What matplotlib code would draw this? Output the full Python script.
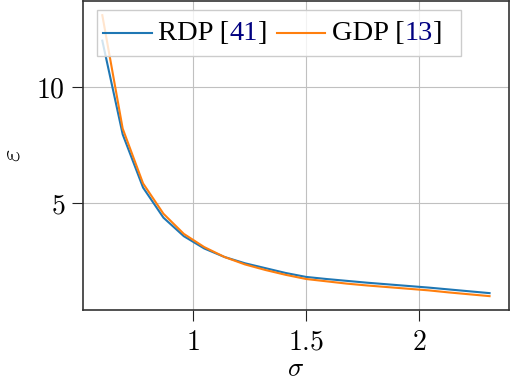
import matplotlib
matplotlib.use("Agg")
from matplotlib import pyplot as plt
from matplotlib.offsetbox import AnchoredOffsetbox, HPacker, TextArea, DrawingArea
from matplotlib.lines import Line2D

plt.rcParams["mathtext.fontset"] = "cm"

# sigma values and epsilon for the two accountants
sigma = [0.60, 0.69, 0.78, 0.87, 0.96, 1.05, 1.14, 1.23, 1.32, 1.41,
         1.50, 1.59, 1.68, 1.77, 1.86, 1.95, 2.04, 2.13, 2.22, 2.31]
eps_rdp = [12.0, 7.95, 5.65, 4.35, 3.55, 3.02, 2.65, 2.38, 2.17, 1.96,
           1.79, 1.70, 1.62, 1.54, 1.47, 1.40, 1.33, 1.25, 1.17, 1.09]
eps_gdp = [13.1, 8.2, 5.83, 4.52, 3.65, 3.08, 2.65, 2.33, 2.09, 1.88,
           1.70, 1.60, 1.50, 1.42, 1.35, 1.28, 1.21, 1.12, 1.04, 0.96]

x_ticks = [1, 1.5, 2]
x_labels = ["$1$", "$1.5$", "$2$"]
y_ticks = [5, 10]
y_labels = ["$5$", "$10$"]

legend_names = ["RDP", "GDP"]
legend_refs = ["41", "13"]
colors = ["#1f77b4", "#ff7f0e"]
ref_color = "#000080"

fig = plt.figure(figsize=(5.12, 3.82), dpi=100)
ax = fig.add_axes([0.162, 0.188, 0.832, 0.809])

ax.plot(sigma, eps_rdp, color=colors[0], lw=1.5, zorder=3)
ax.plot(sigma, eps_gdp, color=colors[1], lw=1.5, zorder=3)

ax.set_xticks(x_ticks, labels=x_labels)
ax.set_yticks(y_ticks, labels=y_labels)
ax.tick_params(direction="out", length=7.8, width=0.8, color="#222222",
               labelsize=20, pad=5)
ax.grid(True, color="#c0c0c0", lw=0.8)
ax.set_axisbelow(True)
for s in ax.spines.values():
    s.set_color("#333333")
    s.set_linewidth(1.2)

ax.set_xlabel(r"$\sigma$", fontsize=19, labelpad=0)
ax.set_ylabel(r"$\varepsilon$", fontsize=19, labelpad=8)

# legend with coloured citation numbers
fp = dict(family="Liberation Serif", size=20.5)
items = []
for name, ref, c in zip(legend_names, legend_refs, colors):
    da = DrawingArea(35, 24, 0, 0)
    da.add_artist(Line2D([0, 35], [12, 12], color=c, lw=1.5))
    txt = HPacker(children=[TextArea(name + " [", textprops=dict(color="black", **fp)),
                            TextArea(ref, textprops=dict(color=ref_color, **fp)),
                            TextArea("]", textprops=dict(color="black", **fp))],
                  sep=0, pad=0, align="baseline")
    items.append(HPacker(children=[da, txt], sep=4.5, pad=0, align="center"))
items.append(DrawingArea(2, 10, 0, 0))
box = HPacker(children=items, sep=7, pad=0, align="center")
anc = AnchoredOffsetbox(loc="upper left", child=box, pad=0.45, borderpad=0,
                        frameon=True, bbox_to_anchor=(0.033, 0.971),
                        bbox_transform=ax.transAxes)
anc.patch.set_boxstyle("square", pad=0)
anc.patch.set_edgecolor("#cccccc")
anc.patch.set_facecolor((1, 1, 1, 0.8))
anc.zorder = 5
ax.add_artist(anc)

plt.savefig("out.png", dpi=100)
